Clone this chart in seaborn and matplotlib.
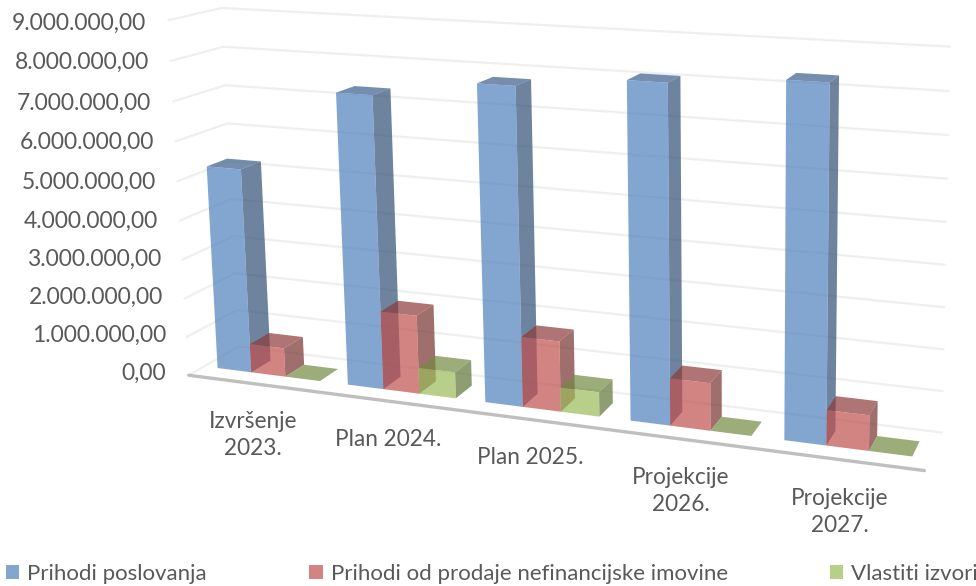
import numpy as np
import pandas as pd
import matplotlib
matplotlib.use("Agg")
import matplotlib.pyplot as plt
import seaborn as sns
from matplotlib.patches import Patch, Polygon
from matplotlib.transforms import Affine2D, Transform

kategorije = ["Izvršenje\n2023.", "Plan 2024.", "Plan 2025.", "Projekcije\n2026.", "Projekcije\n2027."]
serije = ["Prihodi poslovanja", "Prihodi od prodaje nefinancijske imovine", "Vlastiti izvori"]
prihodi_poslovanja = [5250000, 7350000, 7800000, 8100000, 8330000]
prihodi_prodaja = [740000, 1980000, 1740000, 1150000, 840000]
vlastiti_izvori = [0, 660000, 600000, 0, 0]
y_oznake = ["0,00", "1.000.000,00", "2.000.000,00", "3.000.000,00", "4.000.000,00",
            "5.000.000,00", "6.000.000,00", "7.000.000,00", "8.000.000,00", "9.000.000,00"]

BOJE = ["#4F81BD", "#C0504D", "#9BBB59"]
ALPHA = 0.7
DEPTH_A, DEPTH_B = 0.30, 0.70

# kamera: (kategorija, dubina, milijuni) -> piksel slike
KAMERA = np.array([[122.660447, 62.077102, -2.920751, 188.732676],
                   [6.607703, -11.464562, -39.525862, 375.264066],
                   [-0.026467, 0.049962, -0.003965, 1.0]])


def project(x, y, z):
    x, y, z = np.broadcast_arrays(x, y, z)
    h = KAMERA @ np.vstack([x, y, z, np.ones_like(x, dtype=float)])
    return np.column_stack([h[0] / h[2], h[1] / h[2]])


class PrednjaRavnina(Transform):
    """Pravokutnik iz barplota (x, iznos) prebacuje u ravninu prednje strane stupca."""
    input_dims = output_dims = 2

    def transform_non_affine(self, values):
        return project(values[:, 0] + 0.5, DEPTH_A, values[:, 1] / 1e6)


sns.set_theme(style="white")
plt.rcParams["font.family"] = ["Lato", "DejaVu Sans"]

df = pd.DataFrame({
    "kategorija": kategorije * 3,
    "serija": np.repeat(serije, 5),
    "iznos": prihodi_poslovanja + prihodi_prodaja + vlastiti_izvori,
})

fig, ax = plt.subplots(figsize=(9.76, 5.86), dpi=100)
ax.set_position([0, 0, 1, 1])
sns.barplot(data=df, x="kategorija", y="iznos", hue="serija", palette=BOJE, width=0.79,
            saturation=1, legend=False, ax=ax)
ax.set_axis_off()
pix = Affine2D().scale(1 / 976, -1 / 586).translate(0, 1) + fig.transFigure

# zidovi i os
for v in range(10):
    xy = project([0, 0, 5], [0, 1, 1], [v, v, v])
    ax.plot(xy[:, 0], xy[:, 1], color="#EFEFEF", lw=1.6, transform=pix, clip_on=False, zorder=0.5)
xy = project([0, 5], [0, 0], [0, 0])
ax.plot(xy[:, 0], xy[:, 1], color="#BFBFBF", lw=2.4, transform=pix, clip_on=False, zorder=0.6)

red = 1
for cont, boja in zip(ax.containers, BOJE):
    rgb = np.array(matplotlib.colors.to_rgb(boja))
    for p in cont.patches:
        x0, x1 = p.get_x() + 0.5, p.get_x() + p.get_width() + 0.5
        z = p.get_height() / 1e6
        a, b = DEPTH_A, DEPTH_B
        bok = project([x1, x1, x1, x1], [a, b, b, a], [0, 0, z, z])
        vrh = project([x0, x1, x1, x0], [a, a, b, b], [z, z, z, z])
        if z > 0:
            ax.add_patch(Polygon(bok, closed=True, fc=rgb * 0.62, alpha=ALPHA, lw=0, transform=pix,
                                 clip_on=False, zorder=red))
        ax.add_patch(Polygon(vrh, closed=True, fc=rgb * 0.74, alpha=ALPHA, lw=0, transform=pix,
                             clip_on=False, zorder=red + 0.1))
        p.set_transform(PrednjaRavnina() + pix)
        p.set_clip_on(False)
        p.set_alpha(ALPHA)
        p.set_linewidth(0)
        p.set_zorder(red + 0.2)
    red += 1

# oznake osi y
y_poz = [(166, 373), (166, 335), (163, 297), (161, 259), (158, 221), (156, 182), (154, 142), (151, 103), (149, 62), (146, 23)]
for tekst, (x, y) in zip(y_oznake, y_poz):
    ax.text(x, y, tekst, transform=pix, ha="right", va="center", fontsize=16.5, color="#595959", clip_on=False)

# oznake kategorija
x_poz = [(253, 435), (388, 439), (530, 457), (681, 491), (840, 512)]
for tekst, (x, y) in zip(kategorije, x_poz):
    ax.text(x, y, tekst, transform=pix, ha="center", va="center", fontsize=16.3, color="#595959",
            linespacing=1.3, clip_on=False)

rucke = [Patch(fc=b, alpha=ALPHA, lw=0, label=s) for b, s in zip(BOJE, serije)]
fig.legend(handles=rucke, loc="lower left", bbox_to_anchor=(6 / 976, 1 - 584 / 586), ncol=3, frameon=False,
           fontsize=16, handlelength=0.6, handleheight=0.6, handletextpad=0.36, columnspacing=4.6,
           labelcolor="#595959", borderpad=0, borderaxespad=0)

fig.savefig("out.png", dpi=100)
